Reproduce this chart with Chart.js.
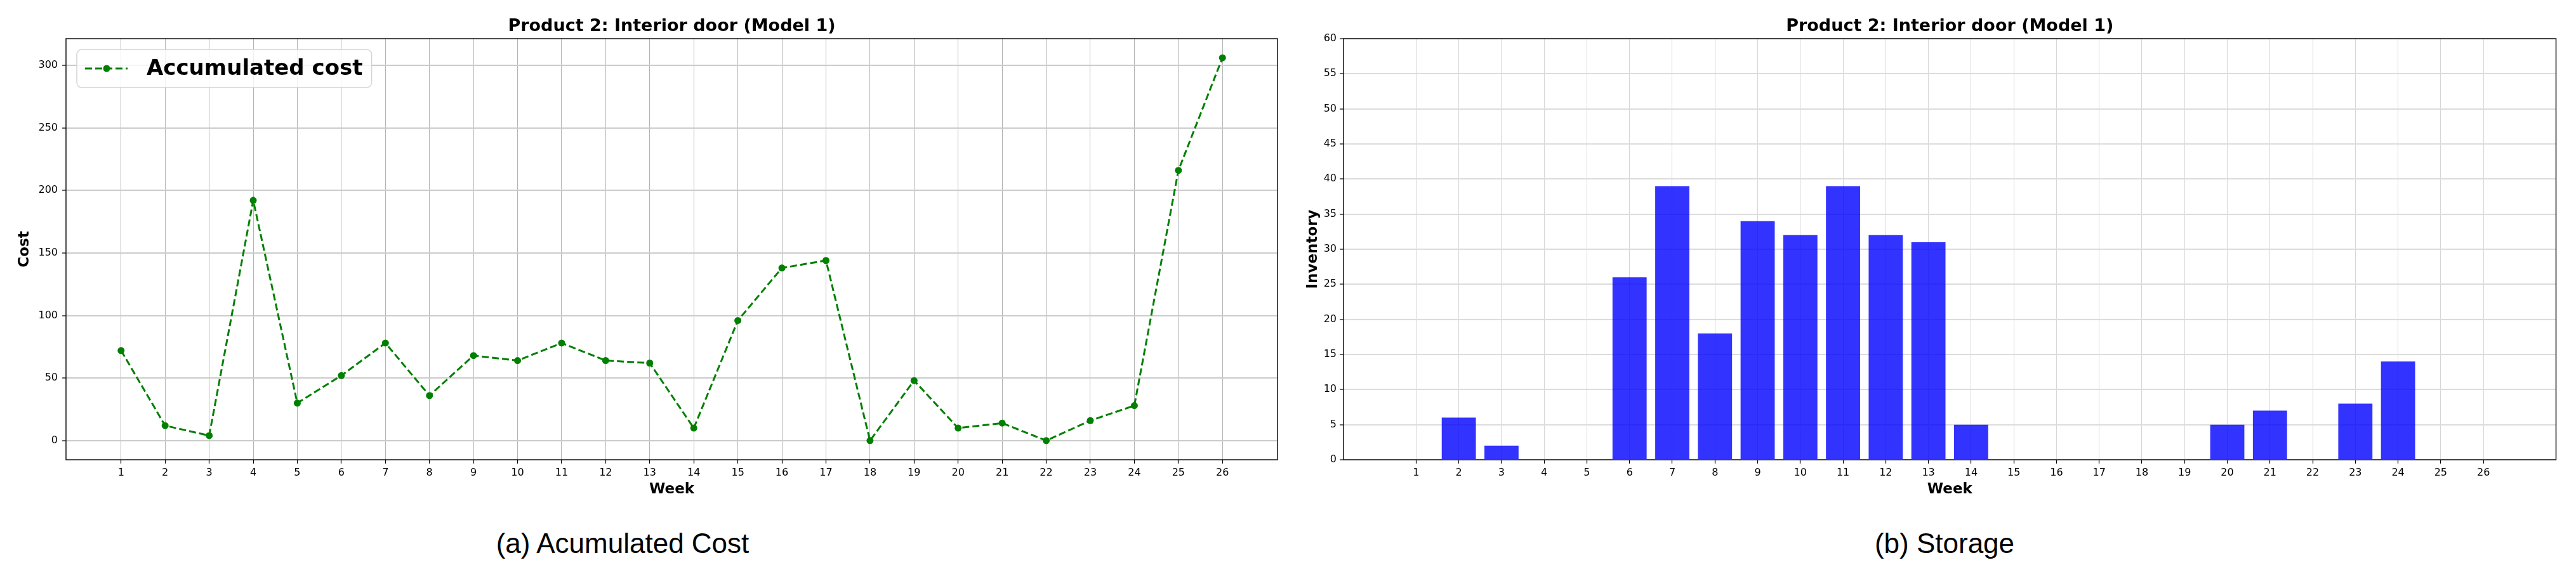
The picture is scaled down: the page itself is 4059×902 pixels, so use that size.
<!DOCTYPE html>
<html>
<head>
<meta charset="utf-8">
<script src="https://cdn.jsdelivr.net/npm/chart.js@4.4.0/dist/chart.umd.min.js"></script>
<style>
  html, body { margin: 0; padding: 0; background: #fff; overflow: hidden; }
  body { width: 4059px; height: 902px; position: relative; }
  canvas { position: absolute; top: 0; }
  #costChart { left: 0; }
  #storageChart { left: 2030px; }
  .caption {
    position: absolute; top: 835px; transform: translateX(-50%);
    font-family: "Liberation Sans", Arial, sans-serif; font-size: 44px;
    line-height: 44px; white-space: nowrap; color: #000;
  }
</style>
</head>
<body>
<canvas id="costChart" width="2030" height="800"></canvas>
<canvas id="storageChart" width="2029" height="800"></canvas>
<div class="caption" style="left:981px">(a) Acumulated Cost</div>
<div class="caption" style="left:3064px">(b) Storage</div>
<script>
// weeks on the x axis
const weeks = [1,2,3,4,5,6,7,8,9,10,11,12,13,14,15,16,17,18,19,20,21,22,23,24,25,26];
// accumulated cost per week
const cost = [72,12,4,192,30,52,78,36,68,64,78,64,62,10,96,138,144,0,48,10,14,0,16,28,216,306];
// inventory in storage per week
const inventory = [0,6,2,0,0,26,39,18,34,32,39,32,31,5,0,0,0,0,0,5,7,0,8,14,0,0];
const costTicks = [0,50,100,150,200,250,300];

const chartTitle = 'Product 2: Interior door (Model 1)';

Chart.defaults.font.family = '"DejaVu Sans", sans-serif';
Chart.defaults.color = '#000';

// black box around the plot area, like matplotlib spines
const frame = {
  id: 'frame',
  afterDraw(chart) {
    const {ctx, chartArea: a} = chart;
    ctx.save();
    ctx.strokeStyle = '#111';
    ctx.lineWidth = 1.5;
    ctx.strokeRect(a.left, a.top, a.right - a.left, a.bottom - a.top);
    ctx.restore();
  }
};

// legend drawn inside the plot, top left
const legendBox = {
  id: 'legendBox',
  afterDraw(chart) {
    const ds = chart.data.datasets[0];
    const {ctx, chartArea} = chart;
    const x = chartArea.left + 17, y = chartArea.top + 17;
    ctx.save();
    ctx.font = 'bold 34px "DejaVu Sans"';
    const tw = ctx.measureText(ds.label).width;
    const w = 110 + tw + 14, h = 60;
    ctx.beginPath();
    ctx.roundRect(x, y, w, h, 8);
    ctx.fillStyle = 'rgba(255,255,255,0.8)';
    ctx.fill();
    ctx.strokeStyle = '#d4d4d4';
    ctx.lineWidth = 1.5;
    ctx.stroke();
    const cy = y + h / 2;
    ctx.setLineDash(ds.borderDash);
    ctx.strokeStyle = ds.borderColor;
    ctx.lineWidth = ds.borderWidth;
    ctx.beginPath();
    ctx.moveTo(x + 13, cy);
    ctx.lineTo(x + 80, cy);
    ctx.stroke();
    ctx.setLineDash([]);
    ctx.beginPath();
    ctx.arc(x + 47, cy, ds.pointRadius, 0, Math.PI * 2);
    ctx.fillStyle = ds.pointBackgroundColor;
    ctx.fill();
    ctx.fillStyle = '#000';
    ctx.textBaseline = 'middle';
    ctx.fillText(ds.label, x + 110, cy + 1);
    ctx.restore();
  }
};

const titleOpts = {
  display: true,
  text: chartTitle,
  fullSize: false,
  font: {size: 27, weight: 'bold'},
  color: '#000',
  padding: {top: 26, bottom: 2.6}
};

const tickFont = {size: 16};
const axisTitleFont = {size: 23, weight: 'bold'};

new Chart(document.getElementById('costChart'), {
  type: 'line',
  data: {
    labels: weeks,
    datasets: [{
      label: 'Accumulated cost',
      data: weeks.map((w, i) => ({x: w, y: cost[i]})),
      borderColor: '#008000',
      backgroundColor: '#008000',
      borderWidth: 3,
      borderDash: [11, 5],
      pointRadius: 5.5,
      pointBackgroundColor: '#008000',
      pointBorderWidth: 0,
      tension: 0,
      fill: false
    }]
  },
  options: {
    responsive: false,
    animation: false,
    devicePixelRatio: 1,
    layout: {padding: {left: 0, right: 17, top: 0, bottom: 14}},
    plugins: {
      legend: {display: false},
      tooltip: {enabled: false},
      title: titleOpts
    },
    scales: {
      x: {
        type: 'linear',
        min: -0.25,
        max: 27.25,
        afterBuildTicks: s => { s.ticks = weeks.map(v => ({value: v})); },
        afterFit: s => { s.height = 61; },
        ticks: {font: tickFont, padding: 5, maxRotation: 0, autoSkip: false},
        grid: {color: '#b4b4b4', lineWidth: 1, tickLength: 6, tickColor: '#000', tickWidth: 1.2},
        border: {display: false},
        title: {display: true, text: 'Week', font: axisTitleFont, padding: {top: 0, bottom: 0}}
      },
      y: {
        type: 'linear',
        min: -15.3,
        max: 321.3,
        afterBuildTicks: s => { s.ticks = costTicks.map(v => ({value: v})); },
        afterFit: s => { s.width = 104; },
        ticks: {font: tickFont, padding: 7},
        grid: {color: '#cbcbcb', lineWidth: 2, tickLength: 6, tickColor: '#000', tickWidth: 1.2},
        border: {display: false},
        title: {display: true, text: 'Cost', font: axisTitleFont, padding: {top: 25, bottom: 0}}
      }
    }
  },
  plugins: [frame, legendBox]
});

new Chart(document.getElementById('storageChart'), {
  type: 'bar',
  data: {
    datasets: [{
      label: 'Inventory',
      data: weeks.map((w, i) => ({x: w, y: inventory[i]})),
      backgroundColor: 'rgba(0,0,255,0.8)',
      borderWidth: 0,
      barPercentage: 0.8,
      categoryPercentage: 1.0
    }]
  },
  options: {
    responsive: false,
    animation: false,
    devicePixelRatio: 1,
    layout: {padding: {left: 0, right: 31.5, top: 0, bottom: 14}},
    plugins: {
      legend: {display: false},
      tooltip: {enabled: false},
      title: titleOpts
    },
    scales: {
      x: {
        type: 'linear',
        min: -0.7,
        max: 27.7,
        offset: false,
        afterBuildTicks: s => { s.ticks = weeks.map(v => ({value: v})); },
        afterFit: s => { s.height = 61; },
        ticks: {font: tickFont, padding: 5, maxRotation: 0, autoSkip: false},
        grid: {color: '#d6d6d6', lineWidth: 1, tickLength: 6, tickColor: '#000', tickWidth: 1.2, offset: false},
        border: {display: false},
        title: {display: true, text: 'Week', font: axisTitleFont, padding: {top: 0, bottom: 0}}
      },
      y: {
        type: 'linear',
        min: 0,
        max: 60,
        ticks: {font: tickFont, padding: 5, stepSize: 5},
        afterFit: s => { s.width = 87; },
        grid: {color: '#dcdcdc', lineWidth: 2, tickLength: 6, tickColor: '#000', tickWidth: 1.2},
        border: {display: false},
        title: {display: true, text: 'Inventory', font: axisTitleFont, padding: {top: 25, bottom: 0}}
      }
    }
  },
  plugins: [frame]
});
</script>
</body>
</html>
